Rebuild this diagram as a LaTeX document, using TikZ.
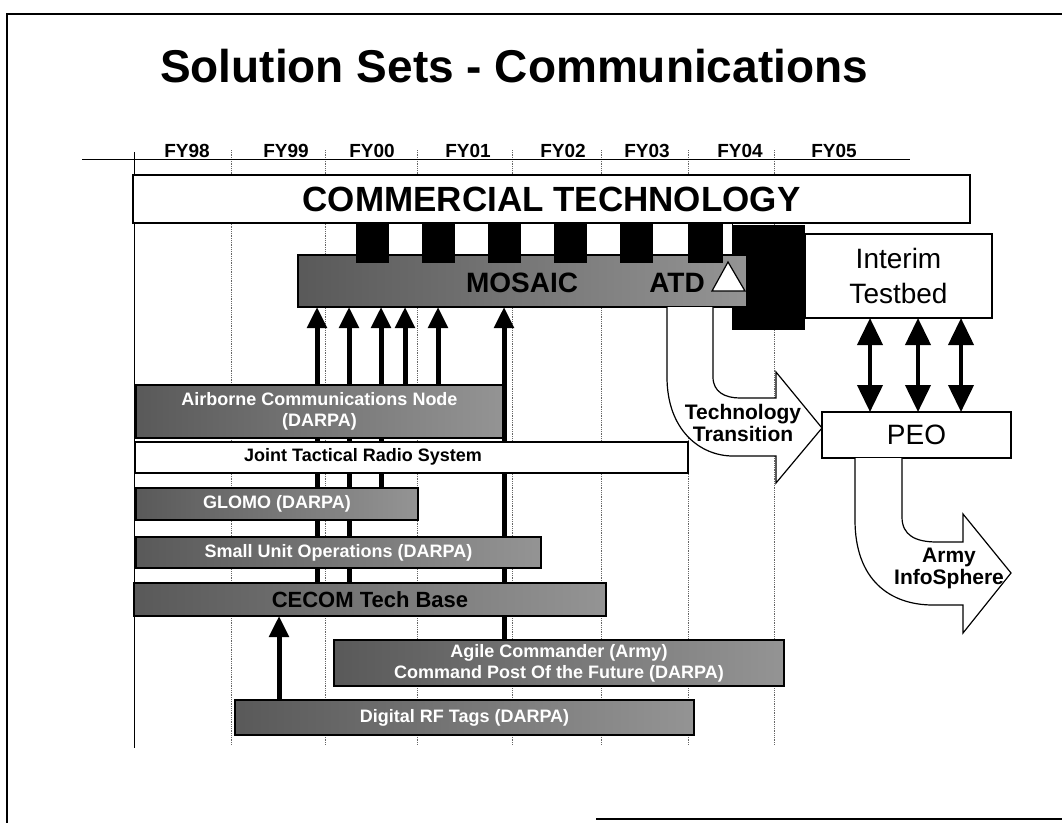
\documentclass[tikz,border=0pt]{standalone}
\usepackage{fontspec}
\setmainfont{Liberation Sans}
\usetikzlibrary{arrows.meta,backgrounds}
\newcommand\fsz[2]{\fontsize{#1pt}{#2pt}\selectfont}
\begin{document}
\begin{tikzpicture}[x=1pt,y=-1pt,
  every node/.style={inner sep=0pt, outer sep=0pt},
  box/.style={draw=black, line width=1.5pt, fill=white},
  bar/.style={draw=black, line width=1.5pt, left color=black!65, right color=black!42, text=white, font=\fsz{18}{21}\bfseries, align=center},
  gridline/.style={black!60, line width=0.8pt, densely dotted},
  uparrow/.style={line width=5pt, -{Triangle[width=19pt,length=21pt]}},
  dblarrow/.style={line width=4pt, {Triangle[width=25pt,length=27pt]}-{Triangle[width=25pt,length=27pt]}},
  bendarrow/.style={draw=black, line width=1.2pt, fill=white},
  fy/.style={font=\fsz{19}{19}\bfseries, anchor=base},
  arrowtext/.style={font=\fsz{21}{22}\bfseries, align=center},
]
\useasboundingbox (0,0) rectangle (1062,823);
\begin{pgfonlayer}{background}
  \fill[white] (0,0) rectangle (1062,823);
\end{pgfonlayer}

% frame
\draw[line width=1.5pt] (1062,14) -- (7,14) -- (7,823);
\draw[line width=2pt] (596,819) -- (1062,819);

% title
\node[font=\fsz{46}{46}\bfseries, anchor=base west] (title) at (160,82) {Solution Sets - Communications};

% timeline header
\draw[line width=1pt] (82,159) -- (910,159);
\node[fy] (fy98) at (187,157) {FY98};
\node[fy] (fy99) at (286,157) {FY99};
\node[fy] (fy00) at (372,157) {FY00};
\node[fy] (fy01) at (468,157) {FY01};
\node[fy] (fy02) at (563,157) {FY02};
\node[fy] (fy03) at (647,157) {FY03};
\node[fy] (fy04) at (740,157) {FY04};
\node[fy] (fy05) at (834,157) {FY05};

% commercial technology
\node[box, minimum width=837pt, minimum height=48pt, anchor=north west, font=\fsz{35}{35}\bfseries] (comm) at (133,175) {COMMERCIAL TECHNOLOGY};

% squares row and big black block
\draw[line width=1pt, fill=white] (356,223) rectangle (732,255);
\fill[black] (732,225) rectangle (805,330);

% interim testbed
\node[box, minimum width=187pt, minimum height=84pt, anchor=north west, font=\fsz{28}{35}, align=center] (interim) at (805,234) {Interim\\Testbed};

% MOSAIC bar
\node[bar, minimum width=449pt, minimum height=52pt, anchor=north west] (mosaic) at (298,255) {};
\foreach \x in {356,422,488,554,620} \fill[black] (\x,223) rectangle ++(33,40);
\fill[black] (688,223) rectangle (723,263);
\node[font=\fsz{28}{28}\bfseries] (mosaictxt) at (522,283) {MOSAIC};
\node[font=\fsz{28}{28}\bfseries] (atd) at (677,283) {ATD};
\draw[fill=white, line width=1.2pt] (728,262) -- (745,291) -- (712,291) -- cycle;

% PEO
\node[box, minimum width=189pt, minimum height=46pt, anchor=north west, font=\fsz{28}{28}] (peo) at (822,412) {PEO};

% bars
\node[bar, minimum width=367pt, minimum height=53pt, anchor=north west] (acn) at (136,385) {Airborne Communications Node\\(DARPA)};
\node[box, minimum width=553pt, minimum height=31pt, anchor=north west] (jtrs) at (135,442) {};
\node[font=\fsz{18}{18}\bfseries] (jtrstxt) at (363,457) {Joint Tactical Radio System};
\node[bar, minimum width=282pt, minimum height=32pt, anchor=north west] (glomo) at (136,488) {GLOMO (DARPA)};
\node[bar, minimum width=405pt, minimum height=31pt, anchor=north west] (suo) at (136,537) {Small Unit Operations (DARPA)};
\node[bar, minimum width=472pt, minimum height=33pt, anchor=north west, text=black, font=\fsz{22}{22}\bfseries] (cecom) at (134,583) {CECOM Tech Base};
\node[bar, minimum width=450pt, minimum height=46pt, anchor=north west] (agile) at (334,640) {Agile Commander (Army)\\Command Post Of the Future (DARPA)};
\node[bar, minimum width=459pt, minimum height=35pt, anchor=north west] (rftags) at (235,700) {Digital RF Tags (DARPA)};

% coordinates of connector columns
\coordinate (c1) at (317,0);
\coordinate (c2) at (349,0);
\coordinate (c3) at (381,0);
\coordinate (c4) at (405,0);
\coordinate (c5) at (438,0);
\coordinate (c6) at (504,0);
\coordinate (c7) at (279,0);
\coordinate (d1) at (870,0);
\coordinate (d2) at (918,0);
\coordinate (d3) at (961,0);

\begin{pgfonlayer}{background}
  \foreach \x in {231,325,417,512,601,688,774} \draw[gridline] (\x,150) -- (\x,745);
  \draw[line width=1pt] (134,152) -- (134,748);
  \draw[uparrow] (c1 |- cecom.north) -- (c1 |- mosaic.south);
  \draw[uparrow] (c2 |- cecom.north) -- (c2 |- mosaic.south);
  \draw[uparrow] (c3 |- glomo.north) -- (c3 |- mosaic.south);
  \draw[uparrow] (c4 |- acn.north) -- (c4 |- mosaic.south);
  \draw[uparrow] (c5 |- acn.north) -- (c5 |- mosaic.south);
  \draw[uparrow] (c6 |- agile.north) -- (c6 |- mosaic.south);
  \draw[uparrow] (c7 |- rftags.north) -- (c7 |- cecom.south);
\end{pgfonlayer}

% double arrows
\draw[dblarrow] (d1 |- interim.south) -- (d1 |- peo.north);
\draw[dblarrow] (d2 |- interim.south) -- (d2 |- peo.north);
\draw[dblarrow] (d3 |- interim.south) -- (d3 |- peo.north);

% technology transition bent arrow
\draw[bendarrow] (667,307) -- (667,377) .. controls (667,430) and (700,456) .. (733,456) -- (776,456) -- (776,483) -- (822,428) -- (776,372) -- (776,398) -- (740,398) .. controls (725,398) and (713,392) .. (713,377) -- (713,307);
\node[arrowtext] (tt) at (743,423) {Technology\\Transition};

% army infosphere bent arrow
\draw[bendarrow] (855,458) -- (855,520) .. controls (855,580) and (890,605) .. (933,605) -- (963,605) -- (963,633) -- (1011,573) -- (963,514) -- (963,542) -- (937,542) .. controls (915,542) and (902,535) .. (902,517) -- (902,458);
\node[arrowtext] (ai) at (949,568) {Army\\InfoSphere};
\end{tikzpicture}
\end{document}
